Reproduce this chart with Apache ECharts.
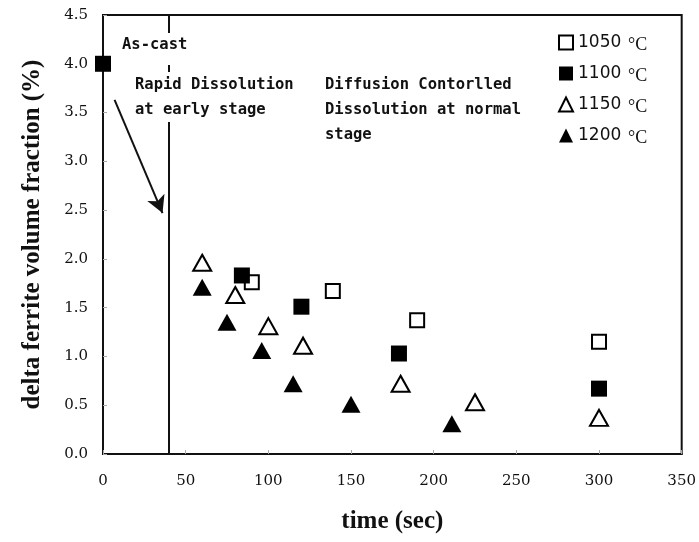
<!DOCTYPE html>
<html>
<head>
<meta charset="utf-8">
<script src="https://cdn.jsdelivr.net/npm/echarts@6/dist/echarts.min.js"></script>
<style>
  html, body { margin: 0; padding: 0; background: #fff; }
  #container { width: 699px; height: 542px; }
</style>
</head>
<body>
<div id="container"></div>
<script>
// data
var t1050 = [90, 139, 190, 300];
var v1050 = [1.76, 1.67, 1.37, 1.15];
var t1100 = [84, 120, 179, 300];
var v1100 = [1.83, 1.51, 1.03, 0.67];
var t1150 = [60, 80, 100, 121, 180, 225, 300];
var v1150 = [1.96, 1.63, 1.31, 1.11, 0.72, 0.53, 0.37];
var t1200 = [60, 75, 96, 115, 150, 211];
var v1200 = [1.71, 1.35, 1.06, 0.72, 0.51, 0.31];
var asCast = [0, 4.0];
var legendNames = ['1050', '1100', '1150', '1200'];
var xTicks = [0, 350, 50];
var yTicks = [0, 4.5, 0.5];

function pairs(t, v) {
    var out = [];
    for (var i = 0; i < t.length; i++) {
        out.push([t[i], v[i]]);
    }
    return out;
}

var dom = document.getElementById("container");
var myChart = echarts.init(dom);

var openStyle = { color: '#fff', borderColor: '#000', borderWidth: 2, opacity: 1 };
var fillStyle = { color: '#000', borderColor: '#000', borderWidth: 0, opacity: 1 };
var monoFont = '"DejaVu Sans Mono", monospace';

var option = {
    animation: false,
    backgroundColor: '#fff',
    grid: {
        left: 103, right: 16, top: 15, bottom: 88,
        show: true, borderColor: '#111', borderWidth: 2
    },
    legend: {
        orient: 'vertical',
        left: 553,
        top: 29,
        itemWidth: 14,
        itemHeight: 14,
        itemGap: 11,
        data: legendNames,
        formatter: function (name) {
            return '{n|' + name + '}  {d|°C}';
        },
        textStyle: {
            rich: {
                n: { fontFamily: '"DejaVu Sans"', fontSize: 17, color: '#111' },
                d: { fontFamily: '"Liberation Serif"', fontSize: 18, color: '#111', padding: [5, 0, 0, 0] }
            }
        }
    },
    xAxis: {
        type: 'value',
        min: xTicks[0], max: xTicks[1], interval: xTicks[2],
        name: 'time (sec)',
        nameLocation: 'middle',
        nameGap: 55,
        nameTextStyle: { fontFamily: '"Liberation Serif"', fontWeight: 'bold', fontSize: 25, color: '#111' },
        axisLine: { lineStyle: { color: '#111', width: 2 } },
        axisTick: { inside: true, length: 4, lineStyle: { color: '#aaa', width: 1 } },
        axisLabel: { margin: 20, fontFamily: '"DejaVu Serif"', fontSize: 15, color: '#111' },
        splitLine: { show: false }
    },
    yAxis: {
        type: 'value',
        min: yTicks[0], max: yTicks[1], interval: yTicks[2],
        name: 'delta ferrite volume fraction (%)',
        nameLocation: 'middle',
        nameGap: 58,
        nameTextStyle: { fontFamily: '"Liberation Serif"', fontWeight: 'bold', fontSize: 25, color: '#111' },
        axisLine: { lineStyle: { color: '#111', width: 2 } },
        axisTick: { inside: true, length: 4, lineStyle: { color: '#aaa', width: 1 } },
        axisLabel: {
            margin: 15, fontFamily: '"DejaVu Serif"', fontSize: 15, color: '#111',
            formatter: function (v) { return v.toFixed(1); }
        },
        splitLine: { show: false }
    },
    series: [
        {
            name: 'as-cast',
            type: 'scatter',
            symbol: 'rect',
            symbolSize: 16,
            clip: false,
            itemStyle: fillStyle,
            data: [asCast],
            markLine: {
                silent: true,
                animation: false,
                label: { show: false },
                lineStyle: { color: '#111', width: 2, type: 'solid', opacity: 1 },
                symbol: ['none', 'none'],
                data: [
                    { xAxis: 40 },
                    [
                        { coord: [7, 3.63], symbol: 'none' },
                        { coord: [36, 2.47], symbol: 'arrow', symbolSize: [14, 17] }
                    ]
                ]
            }
        },
        {
            name: legendNames[0], type: 'scatter', symbol: 'rect', symbolSize: 14,
            itemStyle: openStyle, data: pairs(t1050, v1050), z: 3
        },
        {
            name: legendNames[1], type: 'scatter', symbol: 'rect', symbolSize: 16,
            itemStyle: fillStyle, data: pairs(t1100, v1100), z: 4
        },
        {
            name: legendNames[2], type: 'scatter', symbol: 'triangle', symbolSize: [18, 16],
            itemStyle: openStyle, data: pairs(t1150, v1150), z: 3
        },
        {
            name: legendNames[3], type: 'scatter', symbol: 'triangle', symbolSize: [19, 17],
            itemStyle: fillStyle, data: pairs(t1200, v1200), z: 4
        }
    ],
    graphic: [
        {
            type: 'text', left: 119, top: 33, z: 100,
            style: { text: 'As-cast', font: 'bold 15.5px ' + monoFont, fill: '#111',
                     backgroundColor: '#fff', padding: [4, 3, 12, 3] }
        },
        {
            type: 'text', left: 132, top: 72, z: 100,
            style: { text: 'Rapid Dissolution\nat early stage', font: 'bold 15.5px ' + monoFont, fill: '#111',
                     lineHeight: 25, backgroundColor: '#fff', padding: [0, 3] }
        },
        {
            type: 'text', left: 325, top: 72, z: 100,
            style: { text: 'Diffusion Contorlled\nDissolution at normal\nstage', font: 'bold 15.5px ' + monoFont, fill: '#111',
                     lineHeight: 25 }
        }
    ]
};
myChart.setOption(option);
</script>
</body>
</html>
